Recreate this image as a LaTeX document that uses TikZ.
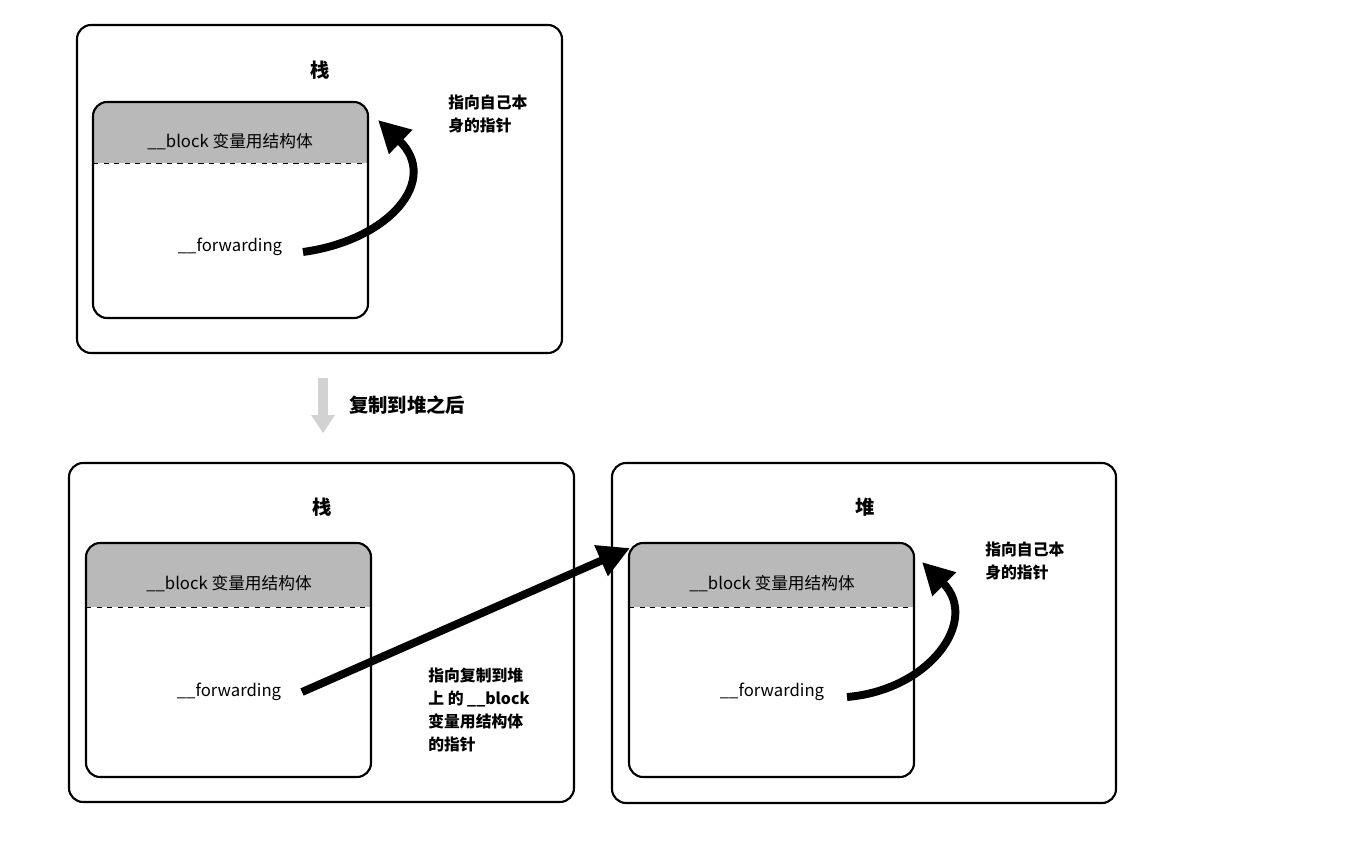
\documentclass[tikz,border=0pt]{standalone}
\usepackage{fontspec}
\setmainfont{Noto Sans CJK SC}
\usetikzlibrary{arrows.meta}
\begin{document}
\begin{tikzpicture}[x=0.02cm,y=-0.02cm,
  outer/.style={draw,line width=1.2pt,rounded corners=8pt},
  inner/.style={draw,line width=1.2pt,rounded corners=8pt},
  txt/.style={font=\fontsize{9.5}{12}\selectfont},
  lbl/.style={font=\fontsize{9}{13}\selectfont\bfseries,align=left,anchor=north west,inner sep=0},
  title/.style={font=\fontsize{11}{13}\selectfont\bfseries},
  bigarrow/.style={line width=4.5pt,-{Triangle[length=18pt,width=18pt]}}]
\useasboundingbox (0,0) rectangle (1372,852);
% top stack
\draw[outer] (77,25) rectangle (562,353);
\node[title] (t1) at (320,70) {栈};
\begin{scope}
\fill[gray!55,rounded corners=8pt] (93,102) rectangle (368,175);
\fill[white] (93,163) rectangle (368,180);
\end{scope}
\draw[inner] (93,102) rectangle (368,318);
\draw[dashed] (93,163) -- (368,163);
\node[txt] (b1) at (230,142) {\_\_block 变量用结构体};
\node[txt] (f1) at (230,247) {\_\_forwarding};
\coordinate (s1) at (303,252);
\coordinate (e1) at (378,120);
\draw[bigarrow] (s1) .. controls (390,240) and (440,180) .. (e1);
\node[lbl] (l1) at (448,95) {指向自己本\\身的指针};
% down arrow
\fill[gray!35] (318,378) rectangle (328,415);
\fill[gray!35] (311,415) -- (335,415) -- (323,433) -- cycle;
\node[font=\fontsize{11}{13}\selectfont\bfseries,anchor=west] (cp) at (343,405) {复制到堆之后};
% bottom left
\draw[outer] (69,463) rectangle (574,802);
\node[title] (t2) at (322,507) {栈};
\fill[gray!55,rounded corners=8pt] (86,543) rectangle (371,615);
\fill[white] (86,607) rectangle (371,620);
\draw[inner] (86,543) rectangle (371,777);
\draw[dashed] (86,607) -- (371,607);
\node[txt] (b2) at (229,584) {\_\_block 变量用结构体};
\node[txt] (f2) at (229,692) {\_\_forwarding};
% bottom right
\draw[outer] (612,463) rectangle (1116,803);
\node[title] (t3) at (865,507) {堆};
\fill[gray!55,rounded corners=8pt] (629,543) rectangle (914,615);
\fill[white] (629,607) rectangle (914,620);
\draw[inner] (629,543) rectangle (914,777);
\draw[dashed] (629,607) -- (914,607);
\node[txt] (b3) at (772,584) {\_\_block 变量用结构体};
\node[txt] (f3) at (772,692) {\_\_forwarding};
% arrows
\coordinate (s2) at (302,692);
\coordinate (e2) at (630,548);
\draw[bigarrow] (s2) -- (e2);
\node[lbl] (l2) at (428,668) {指向复制到堆\\上 的 \_\_block\\变量用结构体\\的指针};
\coordinate (s3) at (847,697);
\coordinate (e3) at (922,562);
\draw[bigarrow] (s3) .. controls (930,690) and (980,620) .. (e3);
\node[lbl] (l3) at (985,542) {指向自己本\\身的指针};
\end{tikzpicture}
\end{document}
